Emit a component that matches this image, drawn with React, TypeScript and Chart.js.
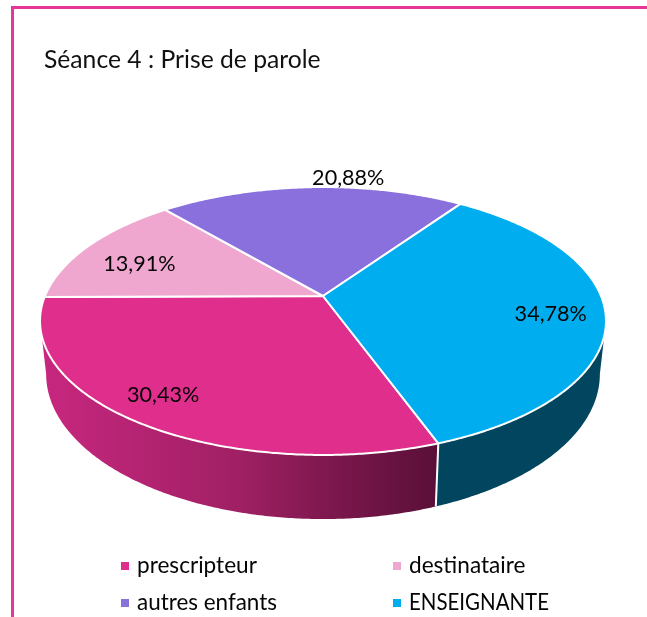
import React, { useEffect, useRef } from "react";
import { Chart, registerables } from "chart.js";

Chart.register(...registerables);

const categories = ["prescripteur", "destinataire", "autres enfants", "ENSEIGNANTE"];
const shares = [30.43, 13.91, 20.88, 34.78];
const shareLabels = ["30,43%", "13,91%", "20,88%", "34,78%"];
const faceColors = ["#E02E8C", "#F0A7CF", "#8A70DC", "#00AEEF"];
const titleText = "Séance 4 : Prise de parole";

const FONT = "Lato";
const RAD = Math.PI / 180;
const TILT = 0.1866;
const topPlane = { x0: 323, y0: 296, a: 129.3, c: 278 };
const basePlane = { x0: 323, y0: 347, a: 139.95, c: 272 };
// label anchors on the disc: radius fraction and angular nudge from the slice middle
const labelRadius = [0.84, 0.74, 1.1, 0.81];
const labelNudge = [2, -4, 8.5, 2.2];

type Plane = typeof topPlane;
const project = (p: Plane, theta: number, r = 1) => {
  const u = r * Math.cos(theta);
  const v = r * Math.sin(theta);
  const d = 1 - TILT * v;
  return { x: p.x0 + (p.c * u) / d, y: p.y0 + (p.a * v) / d };
};

const arcPath = (ctx: CanvasRenderingContext2D, p: Plane, from: number, to: number, first: boolean) => {
  const steps = Math.max(2, Math.ceil(Math.abs(to - from) / (RAD * 0.5)));
  for (let i = 0; i <= steps; i++) {
    const q = project(p, from + ((to - from) * i) / steps);
    if (i === 0 && first) ctx.moveTo(q.x, q.y);
    else ctx.lineTo(q.x, q.y);
  }
};

const pie3d = {
  id: "pie3d",
  beforeDraw(chart: any) {
    const { ctx, width, height } = chart;
    ctx.save();
    ctx.fillStyle = "#fff";
    ctx.fillRect(0, 0, width, height);
    ctx.strokeStyle = "#E8359A";
    ctx.lineWidth = 3;
    ctx.beginPath();
    ctx.moveTo(12.5, height);
    ctx.lineTo(12.5, 7.5);
    ctx.lineTo(width, 7.5);
    ctx.stroke();
    ctx.restore();
  },
  beforeDatasetsDraw(chart: any) {
    const { ctx } = chart;
    const arcs = chart.getDatasetMeta(0).data;
    const full = Math.PI * 2;
    // the rim's silhouette runs between the disc's widest points
    const rimFrom = Math.asin(TILT);
    const rimTo = Math.PI - rimFrom;

    ctx.save();
    ctx.lineJoin = "round";

    arcs.forEach((arc: any, i: number) => {
      for (const shift of [0, -full]) {
        const from = Math.max(arc.startAngle + shift, rimFrom);
        const to = Math.min(arc.endAngle + shift, rimTo);
        if (to <= from) continue;
        let fill: any = "#02455F";
        if (i === 0) {
          const g = ctx.createLinearGradient(40, 0, 437, 0);
          g.addColorStop(0, "#C8277F");
          g.addColorStop(0.5, "#A02064");
          g.addColorStop(0.75, "#7A174C");
          g.addColorStop(1, "#5A0F38");
          fill = g;
        }
        ctx.beginPath();
        arcPath(ctx, topPlane, from, to, true);
        arcPath(ctx, basePlane, to, from, false);
        ctx.closePath();
        ctx.fillStyle = fill;
        ctx.fill();
      }
    });
    // white seam between the two visible rim pieces
    const seam = arcs[0].startAngle;
    const sa = project(topPlane, seam);
    const sb = project(basePlane, seam);
    ctx.strokeStyle = "#fff";
    ctx.lineWidth = 2;
    ctx.beginPath();
    ctx.moveTo(sa.x, sa.y);
    ctx.lineTo(sb.x, sb.y);
    ctx.stroke();

    // top faces
    arcs.forEach((arc: any, i: number) => {
      ctx.beginPath();
      ctx.moveTo(topPlane.x0, topPlane.y0);
      arcPath(ctx, topPlane, arc.startAngle, arc.endAngle, false);
      ctx.closePath();
      ctx.fillStyle = faceColors[i];
      ctx.fill();
      ctx.strokeStyle = "#fff";
      ctx.lineWidth = 2;
      ctx.stroke();
    });

    // value labels
    ctx.fillStyle = "#050505";
    ctx.font = `21.6px ${FONT}`;
    ctx.textAlign = "center";
    ctx.textBaseline = "middle";
    arcs.forEach((arc: any, i: number) => {
      const mid = (arc.startAngle + arc.endAngle) / 2 + labelNudge[i] * RAD;
      const q = project(topPlane, mid, labelRadius[i]);
      ctx.fillText(shareLabels[i], q.x, q.y);
    });

    // legend, two aligned columns
    ctx.textAlign = "left";
    ctx.font = `22.6px ${FONT}`;
    categories.forEach((name, i) => {
      const col = i % 2;
      const row = Math.floor(i / 2);
      const x = 121 + col * 272;
      const y = 566 + row * 37;
      ctx.fillStyle = faceColors[i];
      ctx.fillRect(x, y - 4, 8, 8);
      ctx.fillStyle = "#050505";
      ctx.fillText(name, x + 16, y, 140);
    });
    ctx.restore();
    return false;
  },
};

export default function App() {
  const ref = useRef<HTMLCanvasElement>(null);
  useEffect(() => {
    const chart = new Chart(ref.current as HTMLCanvasElement, {
      type: "pie",
      data: {
        labels: categories,
        datasets: [{ data: shares, backgroundColor: faceColors, borderColor: "#fff" }],
      },
      options: {
        animation: false,
        responsive: false,
        rotation: 160,
        layout: { padding: { left: 44 } },
        plugins: {
          legend: { display: false },
          tooltip: { enabled: false },
          title: {
            display: true,
            text: titleText,
            align: "start",
            color: "#111",
            font: { family: FONT, size: 24.7, weight: "normal" },
            padding: { top: 45, bottom: 10 },
          },
        },
      },
      plugins: [pie3d],
    } as any);
    return () => chart.destroy();
  }, []);
  return (
    <div style={{ position: "absolute", left: 0, top: 0 }}>
      <canvas ref={ref} width={647} height={617} style={{ display: "block" }} />
    </div>
  );
}
